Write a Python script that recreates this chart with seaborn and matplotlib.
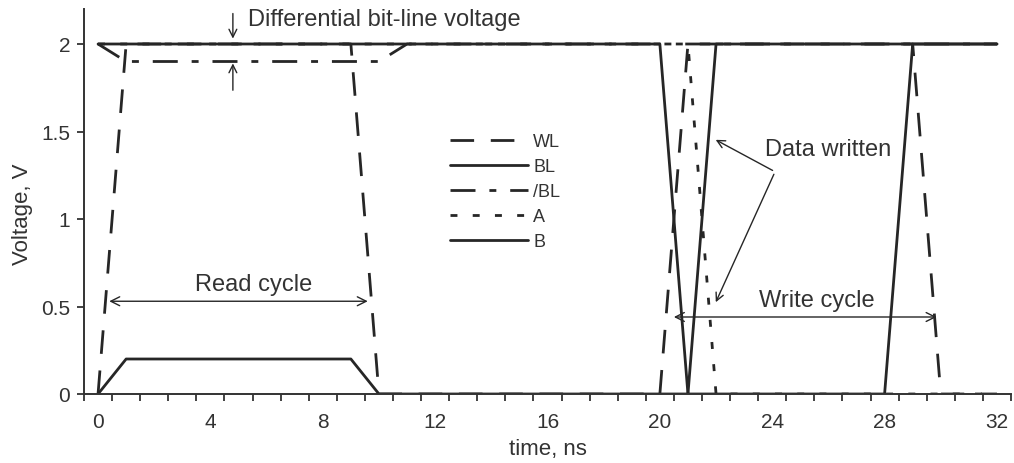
import matplotlib
matplotlib.use("Agg")
import matplotlib.pyplot as plt
import seaborn as sns
import pandas as pd
from matplotlib.ticker import FixedLocator

# time axis (ns) and node voltages (V)
time_ns = [0, 1, 2, 3, 4, 5, 6, 7, 8, 9, 10, 11, 12, 13, 14, 15, 16,
           17, 18, 19, 20, 21, 22, 23, 24, 25, 26, 27, 28, 29, 30, 31, 32]
wl  = [0, 2, 2, 2, 2, 2, 2, 2, 2, 2, 0, 0, 0, 0, 0, 0, 0,
       0, 0, 0, 0, 2, 2, 2, 2, 2, 2, 2, 2, 2, 0, 0, 0]
bl  = [2, 2, 2, 2, 2, 2, 2, 2, 2, 2, 2, 2, 2, 2, 2, 2, 2,
       2, 2, 2, 2, 0, 0, 0, 0, 0, 0, 0, 0, 2, 2, 2, 2]
nbl = [2, 1.9, 1.9, 1.9, 1.9, 1.9, 1.9, 1.9, 1.9, 1.9, 1.9, 2, 2, 2, 2, 2, 2,
       2, 2, 2, 2, 2, 2, 2, 2, 2, 2, 2, 2, 2, 2, 2, 2]
node_a = [2, 2, 2, 2, 2, 2, 2, 2, 2, 2, 2, 2, 2, 2, 2, 2, 2,
          2, 2, 2, 2, 2, 0, 0, 0, 0, 0, 0, 0, 0, 0, 0, 0]
node_b = [0, 0.2, 0.2, 0.2, 0.2, 0.2, 0.2, 0.2, 0.2, 0.2, 0, 0, 0, 0, 0, 0, 0,
          0, 0, 0, 0, 0, 2, 2, 2, 2, 2, 2, 2, 2, 2, 2, 2]

labels = ["WL", "BL", "/BL", "A", "B"]
series = [wl, bl, nbl, node_a, node_b]
styles = [(0, (17, 12)), "-", (0, (18, 10, 5, 10)), (0, (5, 11)), "-"]

sns.set_theme(style="white")
plt.rcParams["font.family"] = ["Liberation Sans", "DejaVu Sans"]
plt.rcParams["lines.scale_dashes"] = False

fig = plt.figure(figsize=(10.14, 4.64), dpi=100)
ax = fig.add_axes([84 / 1014, 1 - 395 / 464, (1011 - 84) / 1014, (395 - 10) / 464])

ink = "#262626"
for lab, vals, ls in zip(labels, series, styles):
    df = pd.DataFrame({"t": time_ns, "v": vals})
    sns.lineplot(data=df, x="t", y="v", ax=ax, color=ink, lw=2.0,
                 linestyle=ls, label=lab)

ax.set_xlim(-0.5, 32.5)
ax.set_ylim(0, 2.2)
ax.set_xticks([0, 4, 8, 12, 16, 20, 24, 28, 32])
ax.xaxis.set_minor_locator(FixedLocator([i + 0.5 for i in range(-1, 33)]))
ax.set_yticks([0, 0.5, 1, 1.5, 2])
ax.set_yticklabels(["0", "0.5", "1", "1.5", "2"])
ax.tick_params(axis="x", which="major", length=0, pad=13, labelsize=15, colors="#333333")
ax.tick_params(axis="x", which="minor", bottom=True, length=5, width=1.3, color="#333333")
ax.tick_params(axis="y", which="major", left=True, length=5, width=1.3, pad=5,
               labelsize=15, colors="#333333")
for s in ["top", "right"]:
    ax.spines[s].set_visible(False)
for s in ["left", "bottom"]:
    ax.spines[s].set_color("#333333")
    ax.spines[s].set_linewidth(1.4)

ax.set_xlabel("time, ns", fontsize=16, color="#333333")
ax.set_ylabel("Voltage, V", fontsize=16, color="#333333")
ax.xaxis.set_label_coords(0.5, -0.115)
ax.yaxis.set_label_coords(-0.055, 0.47)

leg = ax.legend(loc="upper left", bbox_to_anchor=(450 / 1014, 1 - 134 / 464),
                bbox_transform=fig.transFigure, frameon=False, fontsize=13,
                handlelength=4.3, handletextpad=0.3, labelspacing=0.45,
                borderpad=0, borderaxespad=0)
for txt in leg.get_texts():
    txt.set_color("#333333")

arr = dict(arrowstyle="->", color=ink, lw=1.0, mutation_scale=14)
ax.annotate("", xy=(4.8, 2.015), xytext=(4.8, 2.19), arrowprops=arr)
ax.annotate("", xy=(4.8, 1.905), xytext=(4.8, 1.72), arrowprops=arr)
ax.text(5.35, 2.14, "Differential bit-line voltage", fontsize=17, color="#333333",
        ha="left", va="center")

dbl = dict(arrowstyle="<->", color=ink, lw=1.0, mutation_scale=16)
ax.annotate("", xy=(0.3, 0.53), xytext=(9.7, 0.53), arrowprops=dbl)
ax.text(5.55, 0.63, "Read cycle", fontsize=17, color="#333333", ha="center", va="center")
ax.annotate("", xy=(20.4, 0.44), xytext=(29.95, 0.44), arrowprops=dbl)
ax.text(25.6, 0.54, "Write cycle", fontsize=17, color="#333333", ha="center", va="center")

ax.text(26.0, 1.4, "Data written", fontsize=17, color="#333333", ha="center", va="center")
ax.annotate("", xy=(21.9, 1.46), xytext=(24.1, 1.27), arrowprops=arr)
ax.annotate("", xy=(21.95, 0.51), xytext=(24.1, 1.27), arrowprops=arr)

fig.savefig("out.png", dpi=100)
